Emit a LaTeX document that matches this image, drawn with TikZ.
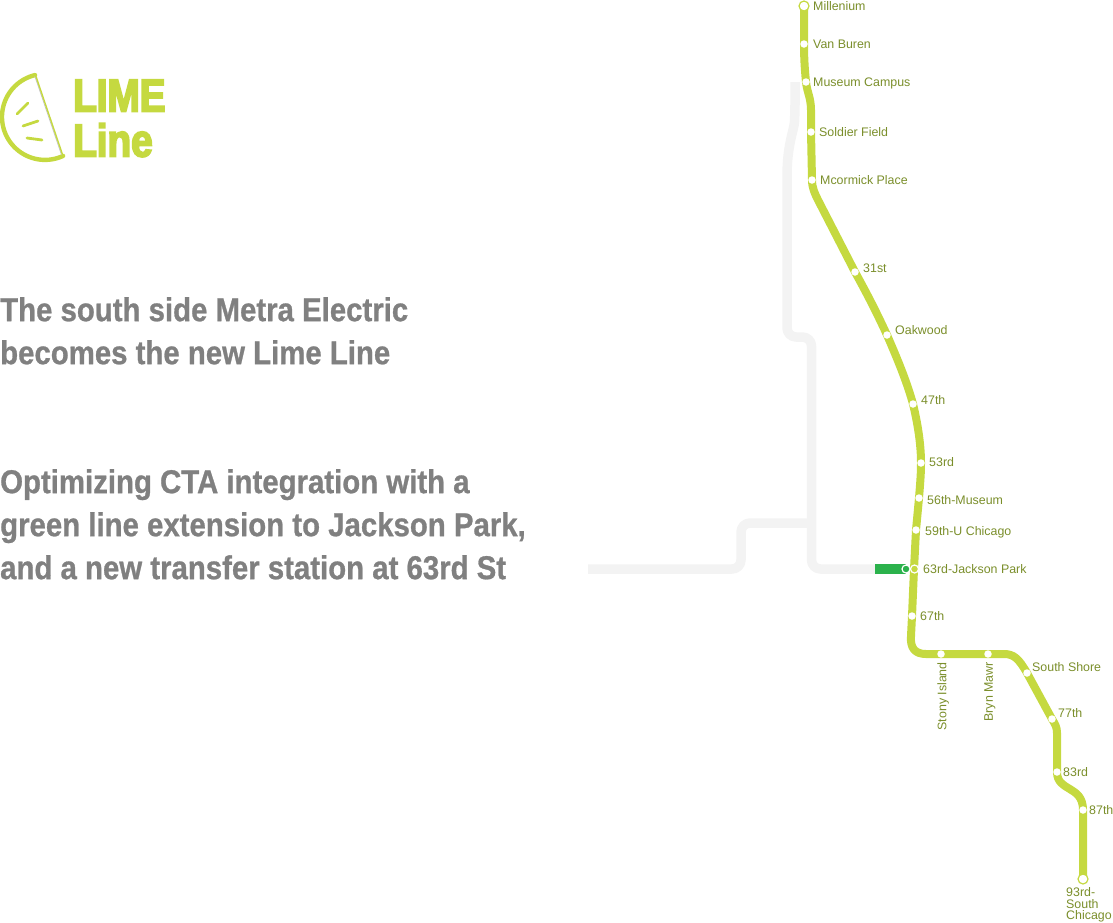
\documentclass[tikz,border=0pt]{standalone}
\usepackage{fontspec}
\setmainfont{Liberation Sans}
\newfontfamily\narrowbold[FakeStretch=0.89,FakeBold=0.8]{Liberation Sans Bold}
\newfontfamily\logobold[FakeStretch=0.84,FakeBold=4]{Liberation Sans Bold}
\usetikzlibrary{positioning,backgrounds}
\definecolor{ctalime}{RGB}{197,217,64}
\definecolor{ctaolive}{RGB}{122,142,42}
\definecolor{ctagreen}{RGB}{43,178,76}
\definecolor{ctagrey}{RGB}{243,243,243}
\definecolor{ctatext}{RGB}{128,128,128}
\tikzset{
  stopnode/.style={circle, fill=white, inner sep=0pt, minimum size=7.5pt},
  endnode/.style={circle, draw=ctalime, fill=white, line width=1.2pt, inner sep=0pt, minimum size=10pt},
  stoplabel/.style={inner sep=0pt, text=ctaolive, font=\fontsize{12.4}{12}\selectfont, text height=9pt, text depth=.5pt},
  limeline/.style={draw=ctalime, line width=8pt, line join=round},
  oldline/.style={draw=ctagrey, line width=9.5pt, line join=round, rounded corners=9pt},
  headline/.style={inner sep=0pt, anchor=north west, align=left, text=ctatext, font=\narrowbold\fontsize{33}{43}\selectfont},
  logotext/.style={inner sep=0pt, anchor=west, text=ctalime, font=\logobold\fontsize{46}{46}\selectfont, text height=33pt, text depth=0pt},
  logostroke/.style={draw=ctalime, line cap=round}
}
\begin{document}
\begin{tikzpicture}[x=1pt, y=-1pt]
  \useasboundingbox (0,0) rectangle (1113,922);
  % stations
  \node[endnode] (millenium) at (804,6) {};
  \node[stopnode] (vanburen) at (804,44) {};
  \node[stopnode] (museum) at (806,82) {};
  \node[stopnode] (soldier) at (811,132) {};
  \node[stopnode] (mccormick) at (812,180) {};
  \node[stopnode] (st31) at (855,272) {};
  \node[stopnode] (oakwood) at (887,335) {};
  \node[stopnode] (st47) at (913,404) {};
  \node[stopnode] (st53) at (921,463) {};
  \node[stopnode] (st56) at (919,498) {};
  \node[stopnode] (st59) at (916,530) {};
  \node[stopnode] (st63) at (914,569) {};
  \node[stopnode] (st67) at (912,616) {};
  \node[stopnode] (stony) at (941,654) {};
  \node[stopnode] (bryn) at (988,654) {};
  \node[stopnode] (southshore) at (1027,673) {};
  \node[stopnode] (st77) at (1052,719) {};
  \node[stopnode] (st83) at (1057,772) {};
  \node[stopnode] (st87) at (1083,810) {};
  \node[endnode] (st93) at (1083,879) {};
  \node[circle, draw=white, fill=ctagreen, line width=1.2pt, inner sep=0pt, minimum size=8pt] (greenstop) at (906,569) {};
  \node[circle, draw=white, fill=ctalime, line width=1.2pt, inner sep=0pt, minimum size=8pt] (limestop) at (914.5,569) {};
  \coordinate (greenend) at (875,569);
  \coordinate (oldtop) at (795,82);
  \coordinate (oldbottom) at (811.5,569);
  \coordinate (oldjoin) at (811.5,523);
  \coordinate (oldwest) at (588,569);
  % labels
  \node[stoplabel, right=9pt of millenium.center] (millenium label) {Millenium};
  \node[stoplabel, right=9pt of vanburen.center] (vanburen label) {Van Buren};
  \node[stoplabel, right=7pt of museum.center] (museum label) {Museum Campus};
  \node[stoplabel, right=8pt of soldier.center] (soldier label) {Soldier Field};
  \node[stoplabel, right=8pt of mccormick.center] (mccormick label) {Mcormick Place};
  \node[stoplabel, right=8pt of st31.center, yshift=4pt] (st31 label) {31st};
  \node[stoplabel, right=8pt of oakwood.center, yshift=5pt] (oakwood label) {Oakwood};
  \node[stoplabel, right=8pt of st47.center, yshift=4pt] (st47 label) {47th};
  \node[stoplabel, right=8pt of st53.center, yshift=1pt] (st53 label) {53rd};
  \node[stoplabel, right=8pt of st56.center, yshift=-2pt] (st56 label) {56th-Museum};
  \node[stoplabel, right=9pt of st59.center, yshift=-1pt] (st59 label) {59th-U Chicago};
  \node[stoplabel, right=9pt of st63.center] (st63 label) {63rd-Jackson Park};
  \node[stoplabel, right=8pt of st67.center] (st67 label) {67th};
  \node[stoplabel, rotate=90, anchor=east] (stony label) at (942,662) {Stony Island};
  \node[stoplabel, rotate=90, anchor=east] (bryn label) at (988.5,662) {Bryn Mawr};
  \node[stoplabel, right=5pt of southshore.center, yshift=6pt] (southshore label) {South Shore};
  \node[stoplabel, right=6pt of st77.center, yshift=6pt] (st77 label) {77th};
  \node[stoplabel, right=6pt of st83.center] (st83 label) {83rd};
  \node[stoplabel, right=6pt of st87.center] (st87 label) {87th};
  \node[stoplabel, anchor=north west, align=left, text height=, text depth=, font=\fontsize{12.4}{11.6}\selectfont] (st93 label) at (1066,887.5) {93rd-\\South\\Chicago};
  % lines go behind the stations
  \begin{pgfonlayer}{background}
    \draw[oldline] (oldtop) -- (795,113) .. controls (794,130) and (787,145) .. (787,185) -- (787,337) -- (811.5,337) -- (oldbottom) -- (greenend);
    \draw[oldline] (oldjoin) -- (741,523) -- (741,569) -- (oldwest);
    \draw[draw=ctagreen, line width=10pt] (greenend) -- (greenstop.center);
    \draw[limeline] (millenium.center) -- (vanburen.center)
      .. controls (804,60) and (805,72) .. (museum.center)
      .. controls (807,92) and (811,98) .. (811,110) -- (soldier.center) -- (mccormick.center)
      .. controls (812,188) and (815,194) .. (818,200) -- (st31.center)
      .. controls (866,292) and (875,309) .. (oakwood.center)
      .. controls (897,358) and (907,382) .. (st47.center)
      .. controls (918,425) and (921,445) .. (st53.center)
      .. controls (921,475) and (920,485) .. (st56.center) -- (st59.center) -- (st63.center) -- (st67.center)
      -- (911,636) .. controls (910,648) and (915,654) .. (926,654) -- (stony.center) -- (bryn.center) -- (1004,654)
      .. controls (1014,654) and (1019,659) .. (southshore.center) -- (st77.center)
      .. controls (1055,724) and (1057,727) .. (1057,733) -- (st83.center)
      .. controls (1057,792) and (1083,785) .. (st87.center) -- (st93.center);
  \end{pgfonlayer}
  % logo
  \draw[logostroke, line width=4.4pt] plot[domain=256.6:65, samples=50] ({45+43*cos(\x)},{116.9+43*sin(\x)});
  \coordinate (rindtop) at (35.5,75);
  \coordinate (rindbottom) at (63,156);
  \draw[draw=ctagrey!80!black, line width=.8pt] (34.8,76) -- (61.6,155);
  \draw[draw=ctalime, line width=1.4pt] (rindtop) -- (rindbottom);
  \draw[logostroke, line width=2.8pt] (17,114) -- (28,103);
  \draw[logostroke, line width=2.8pt] (23,126) -- (38,121);
  \draw[logostroke, line width=2.8pt] (27,138) -- (42,140);
  \node[logotext] (limetitle) at (73,95) {LIME};
  \node[logotext] (linetitle) at (73,140) {Line};
  % text
  \node[headline] (headone) at (0,297) {The south side Metra Electric\\becomes the new Lime Line};
  \node[headline] (headtwo) at (0,469) {Optimizing CTA integration with a\\green line extension to Jackson Park,\\and a new transfer station at 63rd St};
\end{tikzpicture}
\end{document}
